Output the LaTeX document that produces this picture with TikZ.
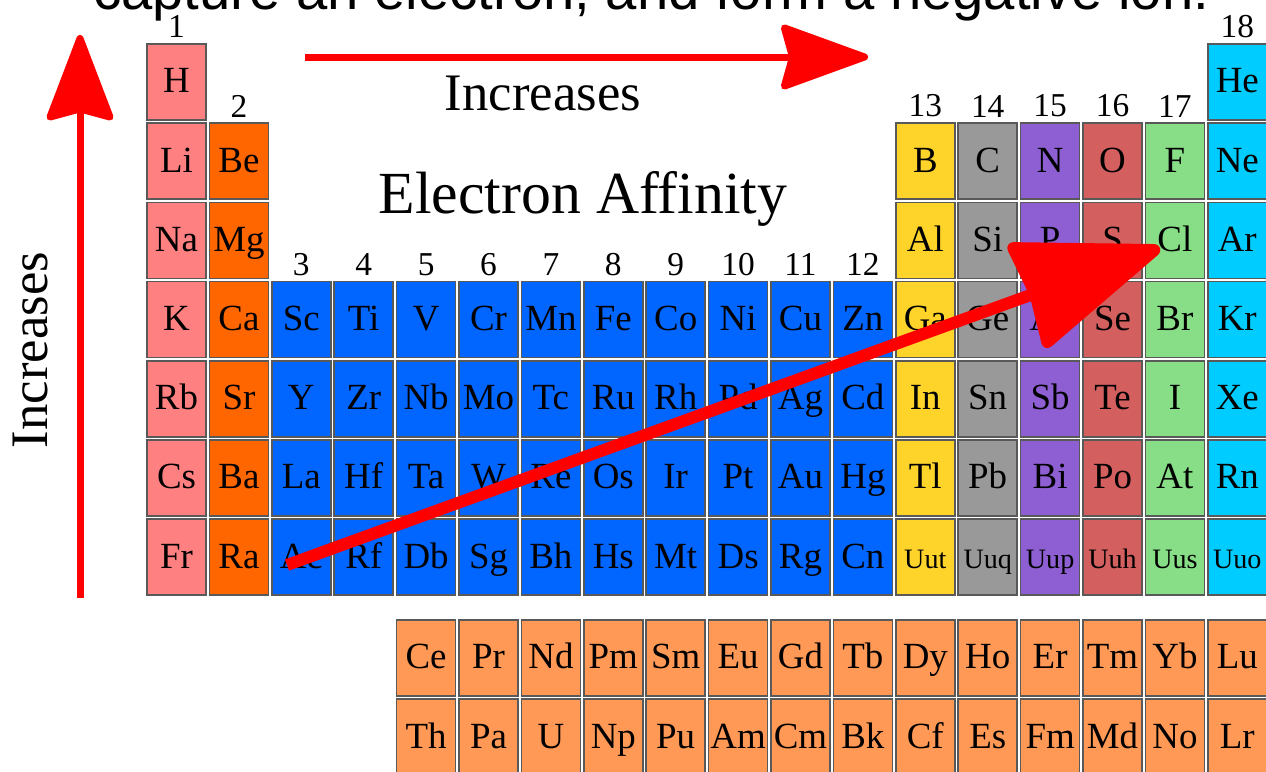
\documentclass[tikz,border=0pt]{standalone}
\usepackage{fontspec}
\setmainfont{Liberation Serif}
\newfontfamily\headfont{Liberation Sans}
\usetikzlibrary{arrows.meta, positioning}

\definecolor{alkali}{HTML}{FF8080}
\definecolor{earth}{HTML}{FF6600}
\definecolor{transit}{HTML}{0066FF}
\definecolor{boron}{HTML}{FFD42A}
\definecolor{carbon}{HTML}{999999}
\definecolor{pnict}{HTML}{8D5FD3}
\definecolor{chalc}{HTML}{D35F5F}
\definecolor{halog}{HTML}{87DE87}
\definecolor{noble}{HTML}{00CCFF}
\definecolor{inner}{HTML}{FF9955}
\definecolor{arrowred}{HTML}{FF0000}

\begin{document}
\begin{tikzpicture}[
    x=0.02cm, y=-0.02cm,
    cell/.style={draw=black!65, line width=0.9pt, minimum width=1.18cm,
      minimum height=1.52cm, inner sep=0pt, text height=14.5pt, text depth=2pt,
      font=\fontsize{21}{25}\selectfont},
    small/.style={font=\fontsize{16}{19}\selectfont},
    grpnum/.style={inner sep=0pt, font=\fontsize{19}{22}\selectfont},
    trend/.style={draw=arrowred, line width=0.14cm},
  ]
  \useasboundingbox (0,0) rectangle (1266,771);
  \clip (0,0) rectangle (1266,771);

  \node[font=\headfont\fontsize{32}{38}\selectfont, anchor=base west, inner sep=0pt] (head) at (93,9)
    {capture an electron, and form a negative ion.};

  \foreach \s [count=\r] in {H,Li,Na,K,Rb,Cs,Fr}
    \node[cell, fill=alkali] (\s) at (176.5, {2.8+79.2*\r}) {\s};
  \foreach \s [count=\r from 2] in {Be,Mg,Ca,Sr,Ba,Ra}
    \node[cell, fill=earth] (\s) at (238.9, {2.8+79.2*\r}) {\s};

  \foreach \row/\list in {4/{Sc,Ti,V,Cr,Mn,Fe,Co,Ni,Cu,Zn},
      5/{Y,Zr,Nb,Mo,Tc,Ru,Rh,Pd,Ag,Cd},
      6/{La,Hf,Ta,W,Re,Os,Ir,Pt,Au,Hg},
      7/{Ac,Rf,Db,Sg,Bh,Hs,Mt,Ds,Rg,Cn}}
    \foreach \s [count=\c from 3] in \list
      \node[cell, fill=transit] (\s) at ({114.1+62.4*\c}, {2.8+79.2*\row}) {\s};

  \foreach \c/\col/\list in {13/boron/{B,Al,Ga,In,Tl},
      14/carbon/{C,Si,Ge,Sn,Pb},
      15/pnict/{N,P,As,Sb,Bi},
      16/chalc/{O,S,Se,Te,Po},
      17/halog/{F,Cl,Br,I,At}}
    \foreach \s [count=\r from 2] in \list
      \node[cell, fill=\col] (\s) at ({114.1+62.4*\c}, {2.8+79.2*\r}) {\s};
  \foreach \s [count=\r] in {He,Ne,Ar,Kr,Xe,Rn}
    \node[cell, fill=noble] (\s) at (1237.3, {2.8+79.2*\r}) {\s};
  \foreach \s/\col [count=\c from 13] in {Uut/boron,Uuq/carbon,Uup/pnict,
      Uuh/chalc,Uus/halog,Uuo/noble}
    \node[cell, small, fill=\col] (\s) at ({114.1+62.4*\c}, 557.2) {\s};

  \foreach \s [count=\c from 5] in {Ce,Pr,Nd,Pm,Sm,Eu,Gd,Tb,Dy,Ho,Er,Tm,Yb,Lu}
    \node[cell, fill=inner] (\s) at ({114.1+62.4*\c}, 658) {\s};
  \foreach \s [count=\c from 5] in {Th,Pa,U,Np,Pu,Am,Cm,Bk,Cf,Es,Fm,Md,No,Lr}
    \node[cell, fill=inner] (\s) at ({114.1+62.4*\c}, 737.2) {\s};

  \node[grpnum, above=0.1cm of H] (g1) {1};
  \node[grpnum, above=0.1cm of Be] (g2) {2};
  \foreach \s [count=\g from 3] in {Sc,Ti,V,Cr,Mn,Fe,Co,Ni,Cu,Zn}
    \node[grpnum, above=0.1cm of \s] (g\g) {\g};
  \foreach \s [count=\g from 13] in {B,C,N,O,F}
    \node[grpnum, above=0.1cm of \s] (g\g) {\g};
  \node[grpnum, above=0.1cm of He] (g18) {18};

  \node[font=\fontsize{34}{40}\selectfont, anchor=base] (title) at (583,213) {Electron Affinity};
  \node[font=\fontsize{30}{36}\selectfont, anchor=base] (across) at (543,110) {Increases};
  \node[font=\fontsize{30}{36}\selectfont, anchor=base, rotate=90] (down) at (47,350) {Increases};

  \coordinate (upTail) at (80,598);
  \coordinate (upTip) at (80,35);
  \coordinate (rightTail) at (305,57);
  \coordinate (rightTip) at (868,57);
  \coordinate (diagTail) at (287,565);
  \coordinate (diagTip) at (1160,248);
  \draw[trend, -{Stealth[length=1.86cm, width=1.4cm, inset=0.18cm, round]}] (upTail) -- (upTip);
  \draw[trend, -{Stealth[length=1.9cm, width=1.36cm, inset=0.18cm, round]}] (rightTail) -- (rightTip);
  \draw[trend, line width=0.24cm, -{Stealth[length=3.1cm, width=2.3cm, inset=0.1cm, round]}] (diagTail) -- (diagTip);
\end{tikzpicture}
\end{document}
